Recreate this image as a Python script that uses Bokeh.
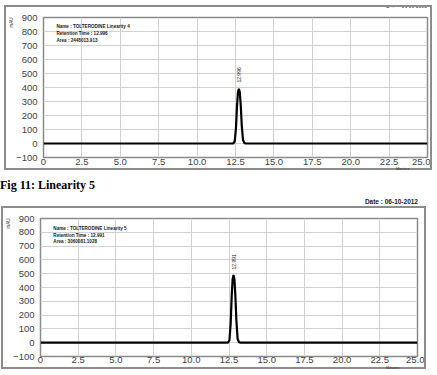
from math import pi
from bokeh.plotting import figure
from bokeh.models import FixedTicker, Label, Range1d, Title, Div
from bokeh.layouts import column
from bokeh.embed import file_html
from bokeh.resources import INLINE

# ---- data ----
x_ticks = [0, 2.5, 5, 7.5, 10, 12.5, 15, 17.5, 20, 22.5, 25]
x_tick_labels = ["0", "2.5", "5.0", "7.5", "10.0", "12.5", "15.0", "17.5", "20.0", "22.5", "25.0"]
y_ticks = [-100, 0, 100, 200, 300, 400, 500, 600, 700, 800, 900]

# Linearity 4 chromatogram (minutes, mAU)
t_lin4 = [0.0, 12.35, 12.45, 12.53, 12.60, 12.66, 12.72, 12.78, 12.84, 12.91, 12.99, 13.08, 13.20, 25.0]
mau_lin4 = [0, 0, 15, 110, 270, 365, 390, 365, 275, 125, 25, 3, 0, 0]
rt_lin4 = "12.996"
info_lin4 = ["Name : TOLTERODINE Linearity 4", "Retention Time : 12.996", "Area : 2448013.913"]
date_lin4 = "Date : 04-10-2012"

# Linearity 5 chromatogram (minutes, mAU)
t_lin5 = [0.0, 12.43, 12.53, 12.61, 12.68, 12.74, 12.80, 12.86, 12.92, 12.99, 13.07, 13.16, 13.28, 25.0]
mau_lin5 = [0, 0, 18, 140, 340, 460, 490, 460, 345, 160, 30, 4, 0, 0]
rt_lin5 = "12.991"
info_lin5 = ["Name : TOLTERODINE Linearity 5", "Retention Time : 12.991", "Area : 3060081.1028"]
date_lin5 = "Date : 06-10-2012"
caption = "Fig 11: Linearity 5"
x_unit = "Minutes"
y_unit = "mAU"

SANS = "Liberation Sans"
FRAME = "2px solid #8c8c8c"


def chrom(t, y, rt, info, width, height, bl, br, bt, bb, info_pos, rt_y, label_standoff):
    p = figure(width=width, height=height, output_backend="svg", toolbar_location=None,
               title_location=None,
               x_range=Range1d(0, 25), y_range=Range1d(-100, 900),
               min_border_left=bl, min_border_right=br, min_border_top=bt, min_border_bottom=bb,
               margin=0)
    p.background_fill_color = "white"
    p.border_fill_color = "white"
    p.outline_line_color = "#8a8a8a"
    p.outline_line_width = 1.5
    for ax in (p.xaxis, p.yaxis):
        ax.axis_line_color = None
        ax.major_tick_line_color = None
        ax.minor_tick_line_color = None
        ax.major_tick_out = 0
        ax.major_tick_in = 0
        ax.minor_tick_out = 0
        ax.minor_tick_in = 0
        ax.major_label_text_font = SANS
        ax.major_label_text_font_size = "9.5px"
        ax.major_label_text_color = "#444444"
    p.xaxis.ticker = FixedTicker(ticks=x_ticks)
    p.xaxis.major_label_overrides = {tk: lb for tk, lb in zip(x_ticks, x_tick_labels)}
    p.xaxis.major_label_standoff = label_standoff
    p.yaxis.ticker = FixedTicker(ticks=y_ticks)
    p.yaxis.major_label_standoff = 6
    p.xgrid.ticker = FixedTicker(ticks=x_ticks)
    p.ygrid.ticker = FixedTicker(ticks=y_ticks)
    p.grid.grid_line_color = "#d2d2d2"
    p.grid.grid_line_width = 1

    p.line(t, y, line_color="black", line_width=2.2)

    # info text block (data units)
    ix, iy, dy = info_pos
    for i, line in enumerate(info):
        p.add_layout(Label(x=ix, y=iy - i * dy, text=line,
                           text_font=SANS, text_font_size="4.6px", text_font_style="bold",
                           text_color="#222222", text_baseline="middle"))
    # retention time label above peak
    apex = t[y.index(max(y))]
    p.add_layout(Label(x=apex, y=rt_y, text=rt, angle=pi / 2, text_font=SANS,
                       text_font_size="5px", text_color="#222222",
                       text_align="left", text_baseline="middle"))
    # y unit label at the top of the left side
    p.add_layout(Title(text=y_unit, align="right", text_font=SANS, text_font_size="4.5px",
                       text_font_style="normal", text_color="#333333", standoff=0), "left")
    return p


def unit_div(left, top):
    return Div(text=(
        '<div style="position:relative;width:24px;height:8px;">'
        '<span style="position:absolute;left:0px;top:%dpx;white-space:nowrap;'
        'font-family:\'Liberation Sans\';font-size:3.8px;line-height:4px;color:#333;">%s</span></div>'
        % (top, x_unit)),
        width=24, height=8, margin=(-8, 0, 0, left),
        styles={"position": "relative", "z-index": "10", "overflow": "visible"})


# top date (sits just above the first framed box)
div_date_top = Div(text=(
    '<div style="position:relative;width:437px;height:5px;">'
    '<span style="position:absolute;right:10px;top:0px;white-space:nowrap;'
    'font-family:\'Liberation Sans\';font-weight:bold;font-size:5px;line-height:5px;'
    'color:#222;">' + date_lin4 + '</span></div>'),
    width=437, height=5, margin=0, styles={"overflow": "visible"})

p_top = chrom(t_lin4, mau_lin4, rt_lin4, info_lin4, 424, 161, 33, 3, 10, 11,
              (0.84, 836, 50), 435, 1)
box_top = column(p_top, unit_div(390, 3), margin=(0, 0, 0, 4), styles={"border": FRAME})

div_mid = Div(text=(
    '<div style="position:relative;width:437px;height:36px;">'
    '<span style="position:absolute;left:0px;top:7px;white-space:nowrap;'
    'font-family:\'Liberation Serif\';font-weight:bold;font-size:12px;color:#000;">'
    + caption + '</span>'
    '<span style="position:absolute;right:19px;top:28px;white-space:nowrap;'
    'font-family:\'Liberation Sans\';font-weight:bold;font-size:6.5px;line-height:7px;color:#222;">'
    + date_lin5 + '</span></div>'),
    width=437, height=36, margin=0, styles={"overflow": "visible"})

p_bot = chrom(t_lin5, mau_lin5, rt_lin5, info_lin5, 421, 159, 31, 7, 10, 11,
              (0.85, 826, 47), 530, 0)
box_bot = column(p_bot, unit_div(383, 3), margin=(0, 0, 0, 1), styles={"border": FRAME})

layout = column(div_date_top, box_top, div_mid, box_bot, spacing=0, margin=0)
open("out.html", "w").write(file_html(layout, INLINE))
